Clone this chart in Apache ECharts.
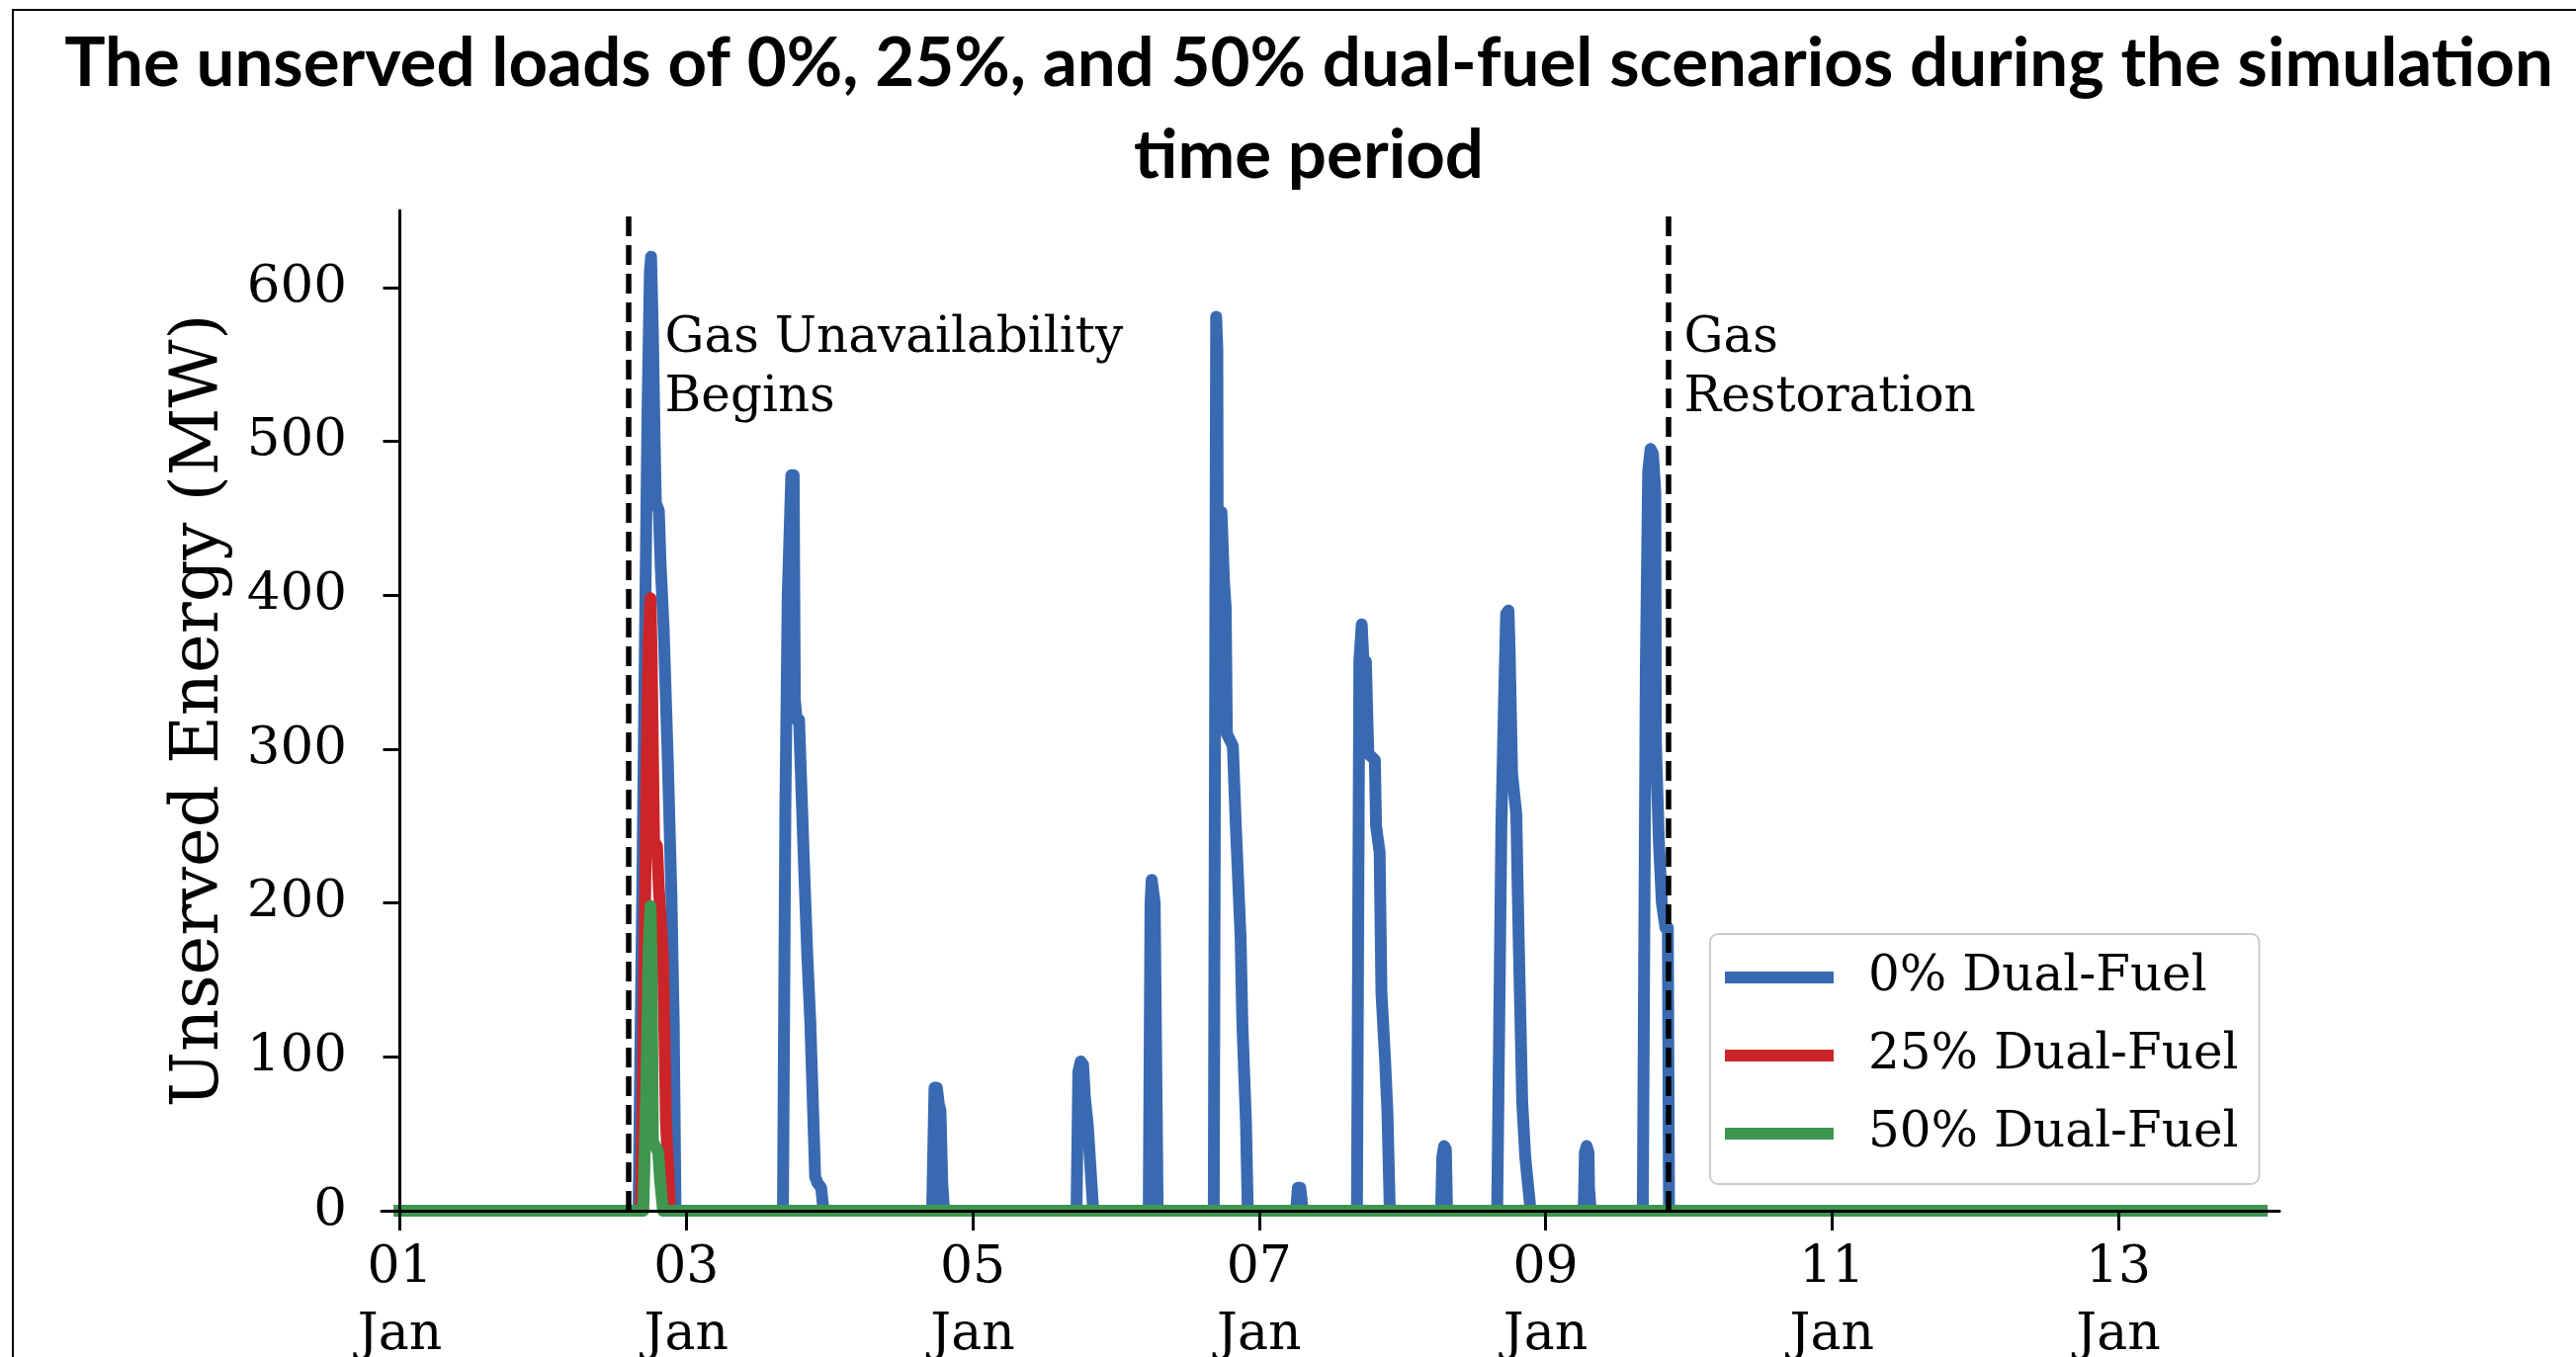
<!DOCTYPE html>
<html>
<head>
<meta charset="utf-8">
<script src="https://cdn.jsdelivr.net/npm/echarts@6/dist/echarts.min.js"></script>
<style>
  body { margin: 0; background: #fff; }
  #main { width: 2606px; height: 1373px; }
  .frame {
    position: absolute; left: 12px; top: 9px; right: 0; bottom: 0;
    border-left: 2.5px solid #000; border-top: 2.5px solid #000;
    pointer-events: none;
  }
</style>
</head>
<body>
<div id="main"></div>
<div class="frame"></div>
<script>
// hours since 01 Jan 00:00
const tickHours = [0, 48, 96, 144, 192, 240, 288];
const tickLabels = ["01\nJan", "03\nJan", "05\nJan", "07\nJan", "09\nJan", "11\nJan", "13\nJan"];
const yTicks = [0, 100, 200, 300, 400, 500, 600];

const gasOff = 38.3;   // Gas Unavailability Begins
const gasOn = 212.6;   // Gas Restoration

// [hour, MW]
const dual0 = [
  [0, 0],
  [40.0, 0], [40.6, 200], [41.1, 380], [41.5, 520], [41.9, 610], [42.1, 620], [42.4, 570], [42.7, 500],
  [42.9, 460], [43.4, 455], [43.7, 420], [44.2, 379], [44.9, 293], [45.5, 207], [45.9, 121], [46.2, 0],
  [64.2, 0], [64.6, 259], [65.0, 400], [65.6, 478], [66.0, 478], [66.1, 400], [66.2, 332], [66.5, 319],
  [66.9, 319], [67.7, 228], [68.3, 164], [68.8, 121], [69.6, 22], [70.0, 18], [70.6, 15], [71.0, 0],
  [89.2, 0], [89.6, 80], [90.0, 80], [90.3, 70], [90.6, 65], [90.9, 18], [91.2, 0],
  [113.4, 0], [113.7, 90], [114.1, 97], [114.5, 95], [114.8, 74], [115.3, 55], [116.2, 0],
  [125.5, 0], [125.8, 200], [126.0, 215], [126.3, 215], [126.5, 200], [127.0, 0],
  [136.4, 0], [136.8, 581], [137.0, 560], [137.1, 349], [137.3, 454], [137.7, 454], [138.1, 410],
  [138.4, 392], [138.6, 310], [139.6, 302], [140.1, 250], [140.9, 177], [141.2, 121], [141.8, 57], [142.1, 0],
  [150.2, 0], [150.5, 15], [150.9, 15], [151.1, 8], [151.3, 0],
  [160.4, 0], [160.8, 357], [161.2, 381], [161.5, 381], [161.7, 340], [161.9, 357], [162.3, 297],
  [163.4, 293], [163.6, 250], [164.2, 233], [164.5, 142], [165.1, 99], [165.5, 65], [165.9, 0],
  [174.5, 0], [174.7, 35], [175.0, 42], [175.3, 40], [175.5, 0],
  [183.9, 0], [184.6, 250], [185.0, 323], [185.4, 388], [185.8, 390], [186.0, 362], [186.4, 284],
  [187.1, 258], [187.5, 177], [188.1, 70], [188.6, 35], [189.5, 0],
  [198.4, 0], [198.6, 38], [198.9, 42], [199.2, 38], [199.3, 14], [199.6, 0],
  [208.3, 0], [208.8, 350], [209.2, 480], [209.6, 495], [210.0, 492], [210.4, 467], [210.5, 303],
  [211.0, 240], [211.5, 200], [212.1, 184], [212.5, 184], [212.7, 0],
  [312, 0]
];
const dual25 = [
  [0, 0], [40.4, 0], [40.9, 130], [41.3, 271], [41.7, 370], [42.0, 398], [42.2, 360], [42.4, 300],
  [42.6, 240], [43.1, 237], [43.4, 210], [44.1, 164], [44.6, 57], [45.3, 0], [312, 0]
];
const dual50 = [
  [0, 0], [40.8, 0], [41.3, 80], [41.7, 170], [42.0, 198], [42.2, 160], [42.3, 100], [42.4, 45],
  [43.3, 38], [43.6, 20], [44.1, 0], [312, 0]
];

const serif = "DejaVu Serif";
const chart = echarts.init(document.getElementById("main"));

function lineSeries(name, data, color) {
  return {
    type: "line",
    name: name,
    data: data,
    showSymbol: false,
    symbol: "none",
    color: color,
    lineStyle: { width: 12, color: color, cap: "square", join: "round" },
    itemStyle: { color: color },
  };
}

const green = lineSeries("50% Dual-Fuel", dual50, "#3E9651");
green.markLine = {
  silent: true,
  symbol: "none",
  label: { show: false },
  lineStyle: { color: "#000", width: 5.5, type: [20, 9] },
  data: [{ xAxis: gasOff }, { xAxis: gasOn }],
};

chart.setOption({
  animation: false,
  backgroundColor: "#fff",
  graphic: [
    {
      type: "text",
      x: 1324,
      y: 18,
      style: {
        text: "The unserved loads of 0%, 25%, and 50% dual-fuel scenarios during the simulation\ntime period",
        font: "bold 69px Lato",
        fill: "#000",
        align: "center",
        textAlign: "center",
        verticalAlign: "top",
        textVerticalAlign: "top",
        lineHeight: 93,
      },
    },
  ],
  grid: { left: 386, right: 300, top: 213, bottom: 148, outerBoundsMode: "none" },
  legend: {
    orient: "vertical",
    left: 1730,
    top: 945,
    data: ["0% Dual-Fuel", "25% Dual-Fuel", "50% Dual-Fuel"],
    icon: "rect",
    itemWidth: 110,
    itemHeight: 12,
    itemGap: 29,
    padding: [19, 21, 26, 15],
    backgroundColor: "rgba(255,255,255,0.8)",
    borderColor: "#cccccc",
    borderWidth: 2,
    borderRadius: 8,
    textStyle: {
      fontFamily: serif,
      fontSize: 50,
      lineHeight: 50,
      color: "#000",
      padding: [0, 0, 0, 30],
    },
  },
  xAxis: {
    type: "value",
    min: -3.07,
    max: 315,
    z: 5,
    axisLine: { show: true, onZero: false, lineStyle: { color: "#000", width: 3 } },
    axisTick: { show: true, customValues: tickHours, length: 20, lineStyle: { color: "#000", width: 3 } },
    axisLabel: {
      customValues: tickHours,
      formatter: (v) => tickLabels[tickHours.indexOf(v)] || "",
      margin: 24,
      fontFamily: serif,
      fontSize: 52,
      lineHeight: 68,
      color: "#000",
    },
    splitLine: { show: false },
  },
  yAxis: {
    type: "value",
    min: 0,
    max: 650,
    z: 5,
    name: "Unserved Energy (MW)",
    nameLocation: "middle",
    nameGap: 150,
    nameTextStyle: { fontFamily: serif, fontSize: 67, color: "#000" },
    axisLine: { show: true, lineStyle: { color: "#000", width: 3 } },
    axisTick: { show: true, customValues: yTicks, length: 17, lineStyle: { color: "#000", width: 3 } },
    axisLabel: { customValues: yTicks, margin: 35, fontFamily: serif, fontSize: 53, color: "#000" },
    splitLine: { show: false },
  },
  series: [
    lineSeries("0% Dual-Fuel", dual0, "#396AB1"),
    lineSeries("25% Dual-Fuel", dual25, "#CC2529"),
    green,
    {
      type: "scatter",
      name: "notes",
      silent: true,
      symbolSize: 0,
      itemStyle: { opacity: 1 },
      label: {
        show: true,
        position: [0, 0],
        align: "left",
        verticalAlign: "top",
        fontFamily: serif,
        fontSize: 50,
        lineHeight: 60,
        color: "#000",
        opacity: 1,
      },
      data: [
        { value: [44.4, 586], label: { formatter: "Gas Unavailability\nBegins", color: "#000" } },
        { value: [215.2, 586], label: { formatter: "Gas\nRestoration", color: "#000" } },
      ],
    },
  ],
});
</script>
</body>
</html>
